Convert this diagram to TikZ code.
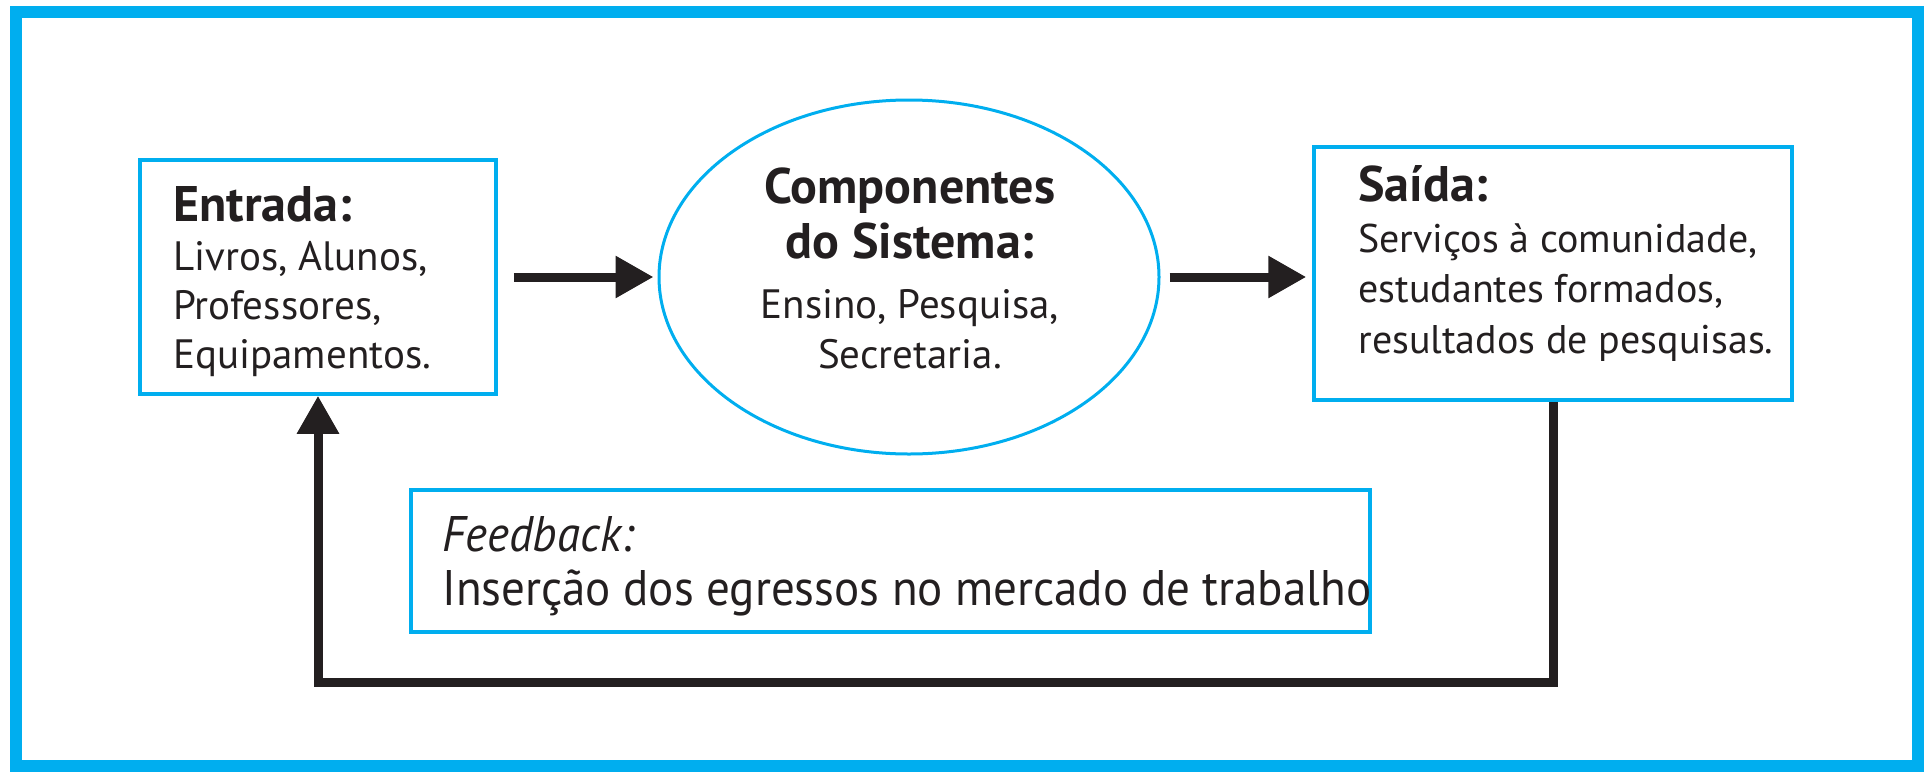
\documentclass[tikz,border=0pt]{standalone}
\usepackage{fontspec}
\setmainfont{PT Sans}
\newfontfamily\fbfont{PT Sans}[FakeStretch=0.94]
\usetikzlibrary{arrows.meta,shapes.geometric}
\definecolor{cyanb}{HTML}{00AEEF}
\definecolor{ink}{HTML}{231F20}
\begin{document}
\begin{tikzpicture}[x=0.5pt,y=-0.5pt,
  box/.style={draw=cyanb, line width=1.75pt, inner sep=0pt, fill=white},
  oval/.style={ellipse, draw=cyanb, line width=1.5pt, inner sep=0pt},
  flow/.style={draw=ink, line width=4.5pt, -{Triangle[length=19pt,width=20pt]}},
  body/.style={inner sep=0pt, text=ink, font=\fontsize{20.5}{24.5}\selectfont}
]
\newcommand\ttl[1]{{\bfseries\fontsize{25}{25}\selectfont #1}}
\useasboundingbox (0,0) rectangle (1926,771);
\draw[cyanb, line width=6pt] (16,12) rectangle (1918,766);

\node[box, minimum width=178pt, minimum height=117pt] (entrada) at (318,277) {};
\node[oval, minimum width=250pt, minimum height=177pt] (sys) at (909,277) {};
\node[box, minimum width=239pt, minimum height=126.5pt] (saida) at (1553,273.5) {};
\node[box, minimum width=479.5pt, minimum height=71pt] (fb) at (890.5,561) {};

\node[body, anchor=base west, align=left] (entT) at (173,368)
  {\ttl{Entrada:}\\ Livros, Alunos,\\ Professores,\\ Equipamentos.};
\node[body, anchor=base, align=center] (sysT) at (910,368)
  {\ttl{Componentes}\\[3pt] \ttl{do Sistema:}\\[5.5pt] Ensino, Pesquisa,\\[0.5pt] Secretaria.};
\node[body, anchor=base west, align=left, font=\fontsize{20}{24.5}\selectfont] (saiT) at (1358,353)
  {\ttl{Saída:}\\[1pt] Serviços à comunidade,\\[0.5pt] estudantes formados,\\[1pt] resultados de pesquisas.};
\node[body, anchor=base west, align=left, font=\fbfont\fontsize{25}{28}\selectfont] (fbT) at (442,605)
  {\textit{Feedback:}\\[-1pt] Inserção dos egressos no mercado de trabalho};

\coordinate (loopy) at (0,682);
\draw[flow, shorten <=8pt, shorten >=2pt] (entrada.east) -- (sys.west);
\draw[flow, shorten <=4.5pt, shorten >=3pt] (sys.east) -- (sys.east -| saida.west);
\draw[flow] (saida.south) -- (saida.south |- loopy) -| (entrada.south);
\end{tikzpicture}
\end{document}
